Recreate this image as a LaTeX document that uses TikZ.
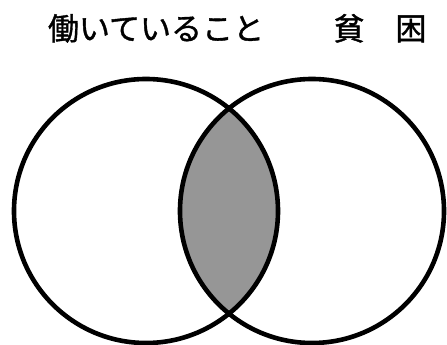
\documentclass[tikz,border=0pt]{standalone}
\usepackage{fontspec}
\newfontfamily\cjk[FakeBold=1.2]{Noto Sans CJK JP}
\definecolor{lensgray}{HTML}{969696}
\begin{document}
\begin{tikzpicture}[x=1pt,y=-1pt,
  ring/.style={draw=black,line width=4.6pt},
  label/.style={font=\cjk\fontsize{31}{31}\selectfont,inner sep=0pt,anchor=base}]
\useasboundingbox (0,0) rectangle (447,345);
\coordinate (cl) at (146,211);
\coordinate (cr) at (312,211);
\begin{scope}
  \clip (cl) circle (132);
  \fill[lensgray] (cr) circle (132);
\end{scope}
\draw[ring] (cl) circle (132);
\draw[ring] (cr) circle (132);
\node[label] (t1) at (156,40) {働いていること};
\node[label] (t2) at (380,40) {貧　困};
\end{tikzpicture}
\end{document}
